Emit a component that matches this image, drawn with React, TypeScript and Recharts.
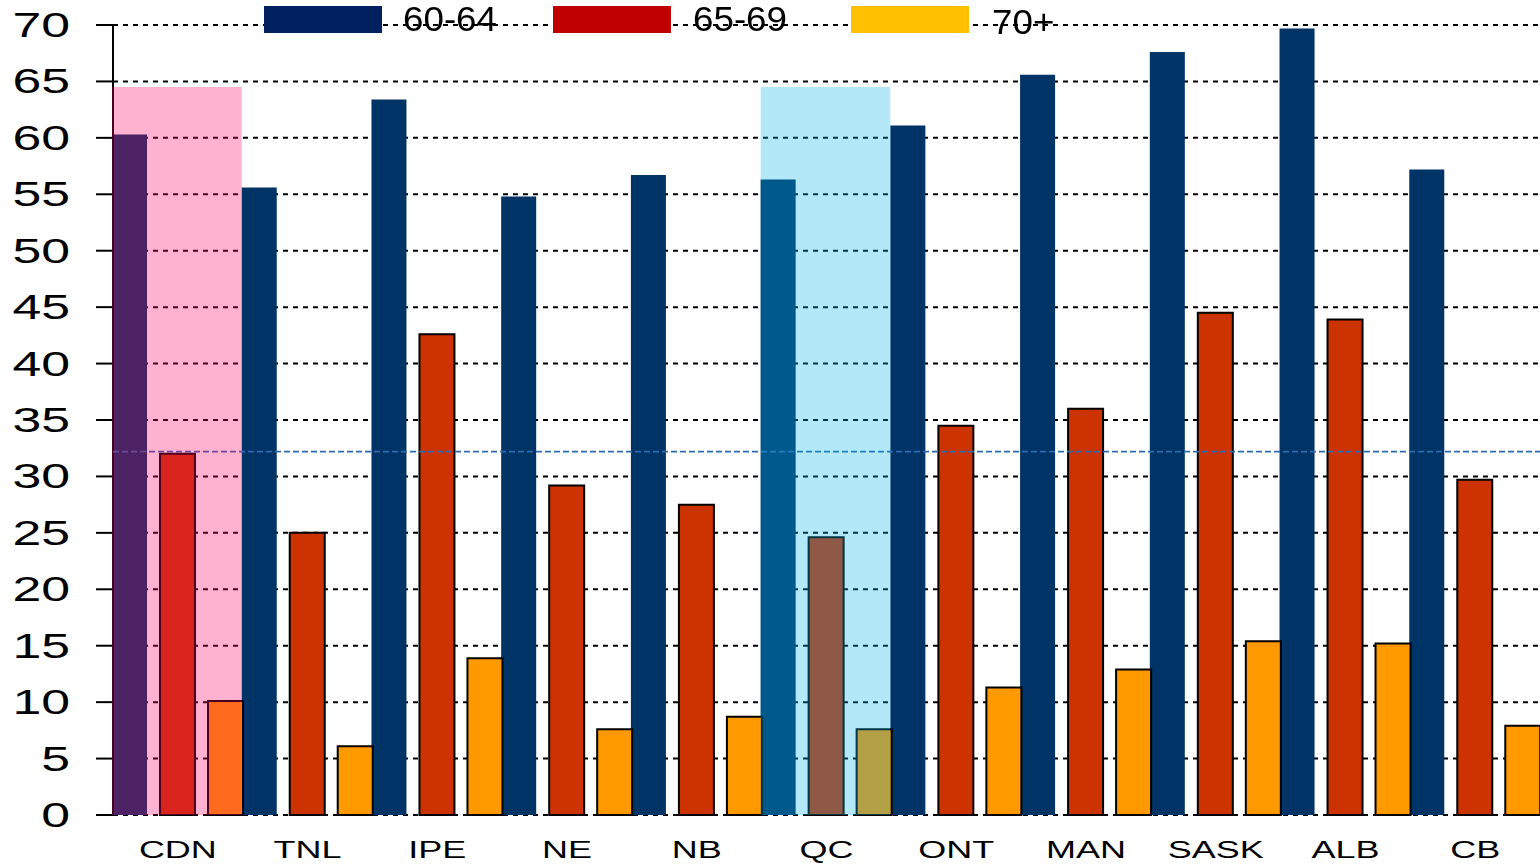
import React from 'react';
import {
  BarChart,
  Bar,
  XAxis,
  YAxis,
  CartesianGrid,
  ReferenceLine,
  ReferenceArea,
  Legend,
} from 'recharts';

// Provinces / regions along the category axis
const regions = ['CDN', 'TNL', 'IPE', 'NE', 'NB', 'QC', 'ONT', 'MAN', 'SASK', 'ALB', 'CB'];

// Rates by age group (%)
const age60to64 = [60.3, 55.6, 63.4, 54.8, 56.7, 56.3, 61.1, 65.6, 67.6, 69.7, 57.2];
const age65to69 = [32.0, 25.0, 42.6, 29.2, 27.5, 24.6, 34.5, 36.0, 44.5, 43.9, 29.7];
const age70plus = [10.1, 6.1, 13.9, 7.6, 8.7, 7.6, 11.3, 12.9, 15.4, 15.2, 7.9];

const seriesNames = ['60-64', '65-69', '70+'];
const seriesKeys = ['a', 'b', 'c'];
const barColors = ['#003366', '#CC3300', '#FF9900'];
const legendColors = ['#002060', '#C00000', '#FFC000'];

const yTicks = [0, 5, 10, 15, 20, 25, 30, 35, 40, 45, 50, 55, 60, 65, 70];

// Canadian average for 65-69 shown as a dashed guide
const canadaAverage = 32.2;
// Height of the highlight bands behind CDN and QC
const highlightTop = 64.5;

const data = regions.map((name, i) => ({
  name,
  a: age60to64[i],
  b: age65to69[i],
  c: age70plus[i],
}));

const FONT = '"Liberation Sans", Arial, sans-serif';

const YTick = (props: any) => {
  const { x, y, payload } = props;
  return (
    <g transform={`translate(${x},${y})`}>
      <text
        transform="scale(1.48,1)"
        textAnchor="end"
        dy={12}
        fontSize={35}
        fontFamily={FONT}
        fill="#000"
      >
        {payload.value}
      </text>
    </g>
  );
};

const XTick = (props: any) => {
  const { x, y, payload } = props;
  return (
    <g transform={`translate(${x + 1},${y + 43})`}>
      <text
        transform="scale(1.5,1)"
        textAnchor="middle"
        fontSize={24}
        fontFamily={FONT}
        fill="#000"
      >
        {payload.value}
      </text>
    </g>
  );
};

// Legend items: swatch left edge, text left edge, vertical nudge
const legendLayout = [
  { swatch: 264, text: 403, dy: 0 },
  { swatch: 553, text: 693, dy: 0 },
  { swatch: 851, text: 992, dy: 3 },
];

const LegendContent = () => (
  <div style={{ position: 'relative', width: 1540, height: 40 }}>
    {seriesNames.map((name, i) => (
      <React.Fragment key={name}>
        <div
          style={{
            position: 'absolute',
            left: legendLayout[i].swatch,
            top: 6,
            width: 118,
            height: 27,
            background: legendColors[i],
          }}
        />
        <div
          style={{
            position: 'absolute',
            left: legendLayout[i].text,
            top: -3 + legendLayout[i].dy,
            fontSize: 35,
            lineHeight: '44px',
            fontFamily: FONT,
            color: '#000',
            whiteSpace: 'nowrap',
            transform: 'scaleX(1.05)',
            transformOrigin: 'left center',
          }}
        >
          {name}
        </div>
      </React.Fragment>
    ))}
  </div>
);

export default function App() {
  return (
    <div style={{ position: 'fixed', left: 0, top: 0, width: 1540, height: 865, background: '#fff' }}>
      <BarChart
        width={1540}
        height={865}
        data={data}
        margin={{ top: 25, right: 0, bottom: 0, left: 0 }}
        barCategoryGap={0}
        barGap={13}
      >
        <CartesianGrid
          horizontal
          vertical={false}
          stroke="#000"
          strokeWidth={2}
          strokeDasharray="5 5"
        />
        <XAxis
          dataKey="name"
          axisLine={false}
          tickLine={false}
          tickSize={0}
          tickMargin={0}
          height={50}
          interval={0}
          padding={{ left: -1, right: 1 }}
          tick={<XTick />}
        />
        <YAxis
          domain={[0, 70]}
          ticks={yTicks}
          width={113}
          tickSize={17}
          tickMargin={26}
          axisLine={{ stroke: '#000', strokeWidth: 2 }}
          tickLine={{ stroke: '#000', strokeWidth: 2 }}
          tick={<YTick />}
          interval={0}
        />
        <Legend
          layout="horizontal"
          verticalAlign="middle"
          align="center"
          wrapperStyle={{ top: 0, left: 0, width: 1540, height: 40 }}
          content={<LegendContent />}
        />
        {seriesKeys.map((key, i) => (
          <Bar
            key={key}
            dataKey={key}
            name={seriesNames[i]}
            fill={barColors[i]}
            stroke={i === 0 ? 'none' : '#000'}
            strokeWidth={i === 0 ? 0 : 2}
            isAnimationActive={false}
          />
        ))}
        <ReferenceLine
          y={canadaAverage}
          stroke="#2E6AAE"
          strokeWidth={1.6}
          strokeDasharray="6 3"
          zIndex={650}
        />
        <ReferenceArea
          x1="CDN"
          x2="CDN"
          y1={0}
          y2={highlightTop}
          fill="rgb(255,0,100)"
          fillOpacity={0.3}
          stroke="none"
          ifOverflow="visible"
          zIndex={700}
        />
        <ReferenceArea
          x1="QC"
          x2="QC"
          y1={0}
          y2={highlightTop}
          fill="rgb(0,178,232)"
          fillOpacity={0.3}
          stroke="none"
          ifOverflow="visible"
          zIndex={700}
        />
      </BarChart>
    </div>
  );
}
